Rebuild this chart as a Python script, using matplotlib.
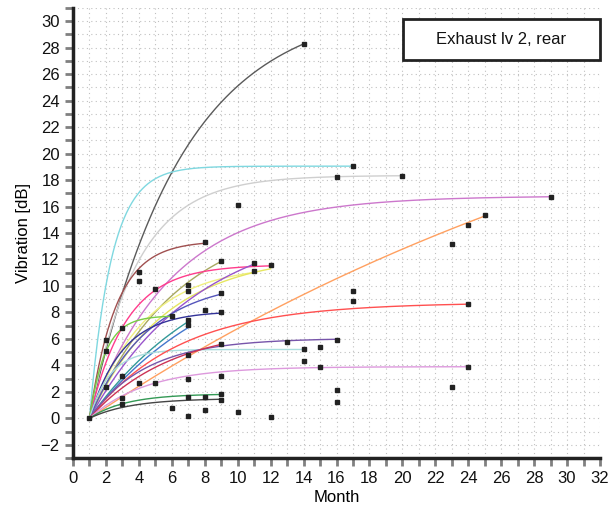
import numpy as np
import matplotlib
matplotlib.use("Agg")
import matplotlib.pyplot as plt
from matplotlib.ticker import MultipleLocator
from matplotlib.patches import Rectangle

plt.rcParams['font.family'] = ['Liberation Sans', 'DejaVu Sans']

# ---- fitted saturation curves y = A*(1-exp(-k*(x-1))) from month 1 ----
curve_end_x = [14, 17, 20, 29, 25, 8, 9, 12, 11, 12, 11, 9, 9, 6, 7, 7, 14, 24, 16, 9, 24, 9, 9]
curve_asym  = [31.3, 19.05, 18.35, 16.8, 34.9, 13.4, 15.35, 11.6, 11.6, 12.4, 15.0, 10.5, 8.1,
               7.75, 13.5, 13.0, 5.2, 8.75, 6.05, 7.0, 3.9, 1.85, 1.5]
curve_rate  = [0.18, 0.75, 0.35, 0.2, 0.024, 0.62, 0.185, 0.45, 0.3, 0.22, 0.15, 0.28, 0.5,
               1.05, 0.13, 0.125, 0.8, 0.184, 0.29, 0.2, 0.288, 0.45, 0.4]
curve_colors = ['#5a5a5a', '#7fd8e0', '#cfcfcf', '#cc77cc', '#ffa060', '#a05050', '#a8a860',
                '#ff3c8c', '#f0f080', '#e6e660', '#9955cc', '#5555bb', '#333399', '#77cc44',
                '#339999', '#4477cc', '#aadddd', '#ff5050', '#7755aa', '#cc3355', '#dd99dd',
                '#339955', '#444444']

# ---- observed measurements ----
obs_month = [1, 2, 2, 2, 3, 3, 3, 3, 4, 4, 4, 5, 5, 6, 6,
             7, 7, 7, 7, 7, 7, 7, 7, 8, 8, 8, 8,
             9, 9, 9, 9, 9, 9, 9, 10, 10, 11, 11, 12, 12, 13,
             14, 14, 14, 15, 15, 16, 16, 16, 16, 17, 17, 17, 20,
             23, 23, 24, 24, 24, 25, 29]
obs_db = [0, 5.95, 5.1, 2.4, 6.85, 3.2, 1.5, 1.1, 11.05, 10.35, 2.7, 9.8, 2.7, 7.7, 0.8,
          10.05, 9.65, 7.45, 7.05, 4.75, 3.0, 1.6, 0.2, 13.35, 8.2, 1.6, 0.6,
          11.9, 9.45, 8.05, 5.65, 3.2, 1.8, 1.4, 16.1, 0.5, 11.7, 11.1, 11.55, 0.1, 5.8,
          28.3, 5.2, 4.3, 5.35, 3.9, 18.2, 5.95, 2.1, 1.2, 19.05, 9.6, 8.85, 18.3,
          13.15, 2.35, 14.6, 8.6, 3.85, 15.35, 16.75]

x_ticks = list(range(0, 33, 2))
y_ticks = list(range(-2, 31, 2))
legend_text = "Exhaust lv 2, rear"

fig = plt.figure(figsize=(6.14, 5.08), dpi=100)
ax = fig.add_axes([73/614, 1-458/508, 527/614, 450/508])

for xe, A, k, c in zip(curve_end_x, curve_asym, curve_rate, curve_colors):
    xs = np.linspace(1, xe, 200)
    ax.plot(xs, A*(1-np.exp(-k*(xs-1))), color=c, lw=1.0, zorder=2)

ax.plot(obs_month, obs_db, linestyle='none', marker='s', markersize=3.2,
        color='#222222', zorder=3)

ax.set_xlim(0, 32)
ax.set_ylim(-3, 31)
ax.set_xticks(x_ticks)
ax.set_yticks(y_ticks)
ax.xaxis.set_minor_locator(MultipleLocator(1))
ax.yaxis.set_minor_locator(MultipleLocator(1))
ax.grid(which='both', linestyle=(0, (1, 3)), color='#c0c0c0', lw=0.8, zorder=0)
for s in ['top', 'right']:
    ax.spines[s].set_visible(False)
for s in ['left', 'bottom']:
    ax.spines[s].set_linewidth(2.5)
    ax.spines[s].set_color('#222222')
ax.tick_params(axis='both', which='both', length=6, width=2, color='#808080',
               labelsize=12, labelcolor='#111111')
ax.set_yticklabels([str(v).replace('-', '\u2212') for v in y_ticks])
ax.set_xlabel('Month', fontsize=12, labelpad=3)
ax.set_ylabel('Vibration [dB]', fontsize=12, labelpad=7)

box = Rectangle((403/614, 1-60/508), 197/614, 41/508, transform=fig.transFigure,
                facecolor='white', edgecolor='#222222', lw=2, zorder=5)
fig.add_artist(box)
fig.text(501/614, 1-40/508, legend_text, ha='center', va='center', fontsize=12,
         color='#111111', zorder=6)

fig.savefig('out.png', dpi=100)
